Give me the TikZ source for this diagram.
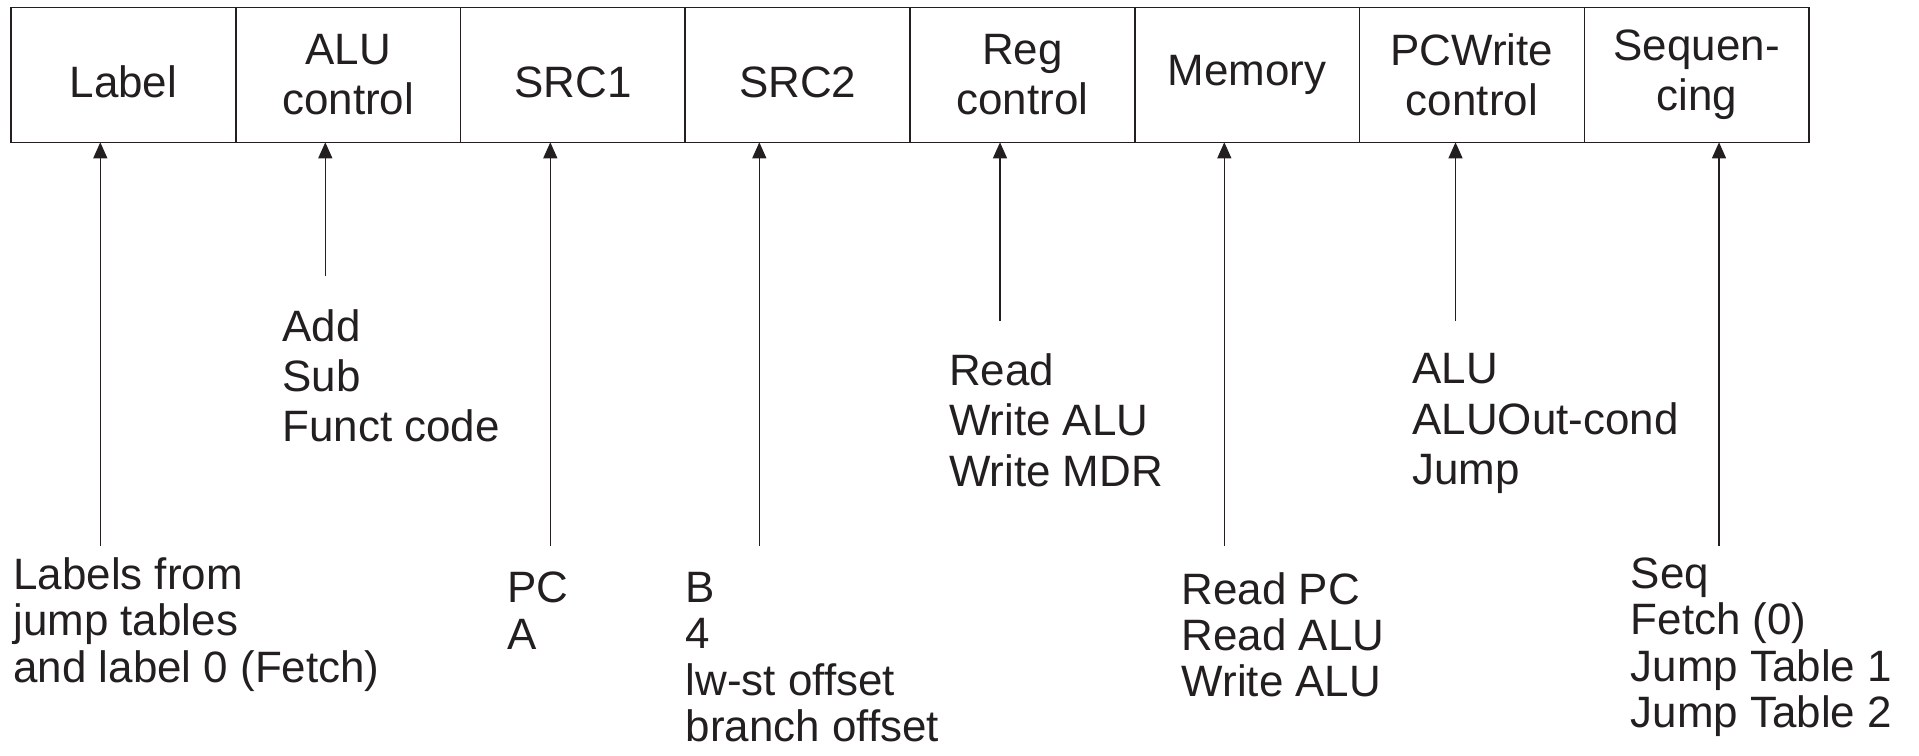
\documentclass[tikz,border=0pt]{standalone}
\usepackage{fontspec}
\setmainfont{Liberation Sans}
\usetikzlibrary{arrows.meta,positioning}
\definecolor{ink}{HTML}{231F20}

\begin{document}
\begin{tikzpicture}[x=0.1mm,y=-0.1mm,>={Triangle[length=1.6mm,width=1.4mm]},
  every node/.style={font=\fontsize{12.5}{14.3}\selectfont,text=ink},
  field/.style={draw=ink,line width=0.45pt,minimum width=22.475mm,minimum height=13.5mm,
    inner sep=0pt,outer sep=0pt,align=center},
  lowtext/.style={text height=4.6mm,text depth=0pt},
  note/.style={anchor=north west,inner sep=0pt,align=left},
  tight/.style={font=\fontsize{12.5}{13.2}\selectfont},
  feed/.style={->,draw=ink,line width=0.35pt}]
\useasboundingbox (0,0) rectangle (1919,755);
% microinstruction fields
\node[field,lowtext] (lbl) at (123.4,74.8) {Label};
\node[field,right=0pt of lbl] (aluctl) {ALU\\control};
\node[field,lowtext,right=0pt of aluctl] (srca) {SRC1};
\node[field,lowtext,right=0pt of srca] (srcb) {SRC2};
\node[field,right=0pt of srcb] (regctl) {Reg\\control};
\node[field,right=0pt of regctl] (mem) {Memory};
\node[field,right=0pt of mem] (pcwctl) {PCWrite\\control};
\node[field,right=0pt of pcwctl] (seqf) {Sequen-\\cing};
% possible values
\node[note] (aluv) at (281.7,308.7) {Add\\Sub\\Funct code};
\node[note] (regv) at (948.3,353) {Read\\Write ALU\\Write MDR};
\node[note] (pcwv) at (1411.7,353) {ALU\\ALUOut-cond\\Jump};
\node[note,tight] (lblv) at (12.7,557) {Labels from\\jump tables\\and label 0 (Fetch)};
\node[note,tight] (srcav) at (506.7,571.5) {PC\\A};
\node[note,tight] (srcbv) at (685,571.5) {B\\4\\lw-st offset\\branch offset};
\node[note,tight] (memv) at (1181,571.5) {Read PC\\Read ALU\\Write ALU};
\node[note,tight] (seqv) at (1630,557) {Seq\\Fetch (0)\\Jump Table 1\\Jump Table 2};
% arrows up into the fields
\coordinate (lbli) at (100.3,546);
\coordinate (alui) at (325.3,276);
\coordinate (srcai) at (550.3,546);
\coordinate (srcbi) at (759.3,546);
\coordinate (regi) at (1000,321);
\coordinate (memi) at (1224.3,546);
\coordinate (pcwi) at (1455.5,321);
\coordinate (seqi) at (1719,546);
\draw[feed] (lbli) -- (lbli |- lbl.south);
\draw[feed] (alui) -- (alui |- aluctl.south);
\draw[feed] (srcai) -- (srcai |- srca.south);
\draw[feed] (srcbi) -- (srcbi |- srcb.south);
\draw[feed] (regi) -- (regi |- regctl.south);
\draw[feed] (memi) -- (memi |- mem.south);
\draw[feed] (pcwi) -- (pcwi |- pcwctl.south);
\draw[feed] (seqi) -- (seqi |- seqf.south);
\end{tikzpicture}
\end{document}
